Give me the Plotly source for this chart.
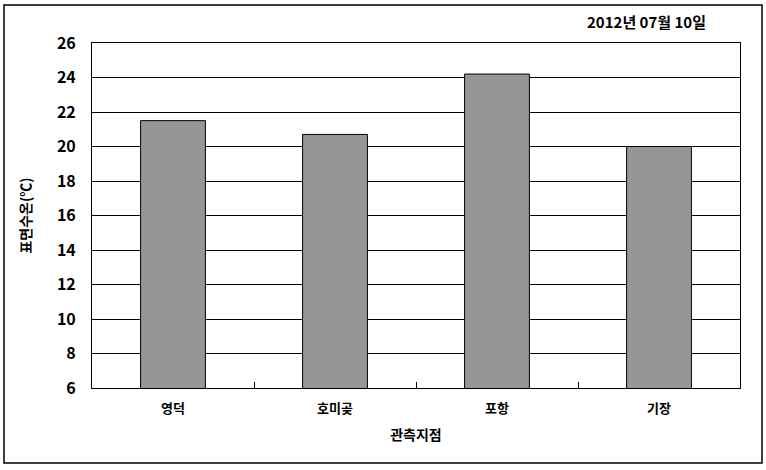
import plotly.graph_objects as go

categories = ["영덕", "호미곶", "포항", "기장"]
values = [21.5, 20.7, 24.2, 20.0]
y_ticks = [6, 8, 10, 12, 14, 16, 18, 20, 22, 24, 26]
title_text = "2012년 07월 10일"
x_title = "관측지점"
y_title = "표면수온(℃)"

FONT = "Noto Sans CJK KR"

fig = go.Figure(go.Bar(
    x=categories, y=values,
    marker=dict(color="#969696", line=dict(color="black", width=1)),
    base=0,
))

W, H = 766, 470
L, R, T, B = 92, 26, 43, 82
pw, ph = W - L - R, H - T - B

def px2paper_x(px):
    return (px - L) / pw

def px2paper_y(py):
    return (H - B - py) / ph

fig.update_layout(
    width=W, height=H,
    margin=dict(l=L, r=R, t=T, b=B),
    paper_bgcolor="white", plot_bgcolor="white",
    bargap=0.6,
    showlegend=False,
    font=dict(family=FONT, color="black"),
    xaxis=dict(
        type="category",
        tickson="boundaries",
        ticks="inside", ticklen=6, tickcolor="black", tickwidth=1,
        showgrid=False,
        showline=True, linecolor="black", linewidth=1, mirror=True,
        tickfont=dict(family=FONT, size=13, color="black", weight="bold"),
        ticklabelstandoff=8,
        title=dict(text=x_title, font=dict(family=FONT, size=14, color="black", weight="bold"), standoff=14),
    ),
    yaxis=dict(
        range=[6, 26],
        tickvals=y_ticks,
        ticks="",
        showgrid=True, gridcolor="black", gridwidth=1,
        showline=True, linecolor="black", linewidth=1, mirror=True,
        zeroline=False,
        tickfont=dict(family=FONT, size=16, color="black", weight="bold"),
        ticklabelstandoff=12,
        title=dict(text=y_title, font=dict(family=FONT, size=14, color="black", weight="bold"), standoff=22),
    ),
    shapes=[dict(
        type="rect", xref="paper", yref="paper",
        x0=px2paper_x(4), x1=px2paper_x(762),
        y0=px2paper_y(463), y1=px2paper_y(5),
        line=dict(color="black", width=1.5), fillcolor="rgba(0,0,0,0)",
        layer="below",
    )],
    annotations=[dict(
        text=title_text, xref="paper", yref="paper",
        x=px2paper_x(708), y=px2paper_y(22),
        xanchor="right", yanchor="middle", showarrow=False,
        font=dict(family=FONT, size=15, color="black", weight="bold"),
    )],
)

fig.write_html("out.html", config={"displayModeBar": False},
               post_script="document.body.style.margin='0';document.body.style.overflow='hidden';")
